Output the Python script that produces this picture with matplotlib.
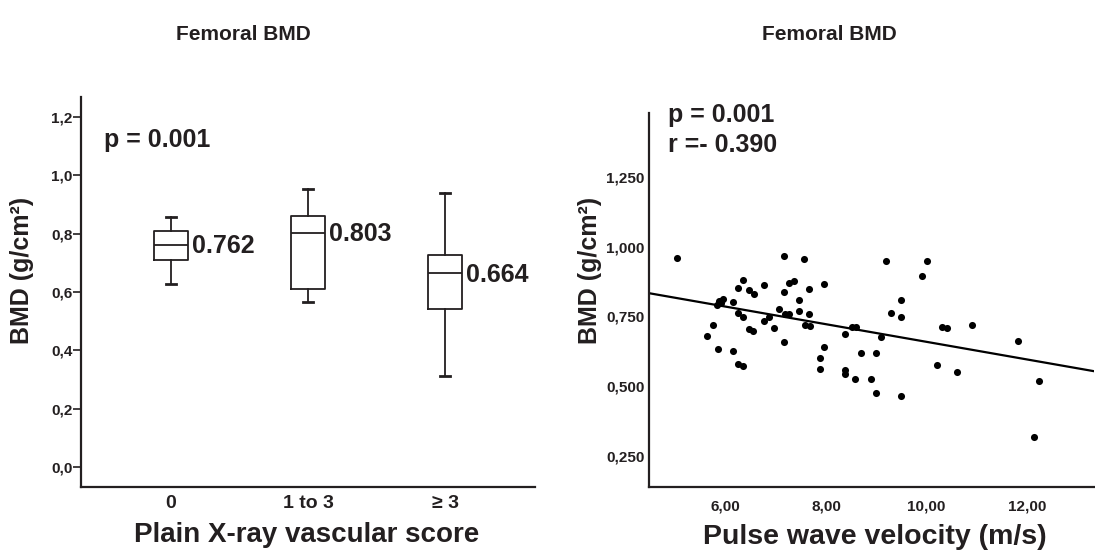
import numpy as np
import matplotlib
matplotlib.use("Agg")
import matplotlib.pyplot as plt

plt.rcParams['font.family'] = ['Liberation Sans', 'DejaVu Sans']
plt.rcParams['font.weight'] = 'bold'
plt.rcParams['axes.labelweight'] = 'bold'
ink = '#231f20'

# left panel: box plot by vascular score
groups = ['0', '1 to 3', '\u2265 3']
med = [0.762, 0.803, 0.664]
q1 = [0.710, 0.610, 0.542]
q3 = [0.809, 0.861, 0.727]
whis_lo = [0.627, 0.566, 0.312]
whis_hi = [0.857, 0.953, 0.940]
left_yticks = [0.0, 0.2, 0.4, 0.6, 0.8, 1.0, 1.2]

# right panel: pulse wave velocity vs BMD
pwv = [5.04, 7.17, 7.57, 6.35, 6.26, 6.46, 6.57, 6.76, 7.27, 7.37,
       7.97, 7.17, 7.67, 7.46, 5.87, 5.96, 5.84, 5.92, 6.15, 6.26,
       6.35, 7.06, 7.18, 7.27, 7.46, 7.67, 6.86, 6.76, 6.96, 7.58,
       7.68, 6.46, 6.55, 5.75, 5.64, 7.17, 5.86, 6.15, 6.25, 6.35,
       7.97, 7.88, 7.88, 8.38, 8.38, 8.38, 9.20, 10.00, 9.90, 9.50,
       9.29, 9.50, 8.52, 8.60, 9.09, 10.31, 10.40, 8.69, 8.99, 10.20,
       8.58, 8.89, 10.61, 8.99, 9.50, 10.91, 11.82, 12.23, 12.13]
bmd = [0.961, 0.967, 0.955, 0.880, 0.851, 0.845, 0.830, 0.863, 0.869, 0.876,
       0.865, 0.837, 0.849, 0.808, 0.806, 0.812, 0.791, 0.797, 0.803, 0.763,
       0.749, 0.776, 0.759, 0.759, 0.770, 0.757, 0.748, 0.733, 0.708, 0.718,
       0.715, 0.704, 0.699, 0.720, 0.680, 0.658, 0.632, 0.627, 0.579, 0.573,
       0.642, 0.600, 0.562, 0.687, 0.558, 0.543, 0.950, 0.950, 0.894, 0.808,
       0.763, 0.747, 0.711, 0.713, 0.677, 0.711, 0.708, 0.619, 0.619, 0.577,
       0.526, 0.526, 0.550, 0.475, 0.466, 0.719, 0.662, 0.520, 0.319]
fit_intercept = 0.975
fit_slope = -0.0316
right_xticks = [6, 8, 10, 12]
right_yticks = [0.25, 0.5, 0.75, 1.0, 1.25]

fig = plt.figure(figsize=(10.95, 5.52), dpi=100)
ax1 = fig.add_axes([0.074, 0.1178, 0.4146, 0.7065])
ax2 = fig.add_axes([0.5927, 0.1178, 0.4065, 0.6775])

# --- left ---
stats = []
for i in range(len(groups)):
    stats.append(dict(med=med[i], q1=q1[i], q3=q3[i], whislo=whis_lo[i],
                      whishi=whis_hi[i], fliers=[]))
pos = np.arange(len(groups))
lw = 1.3
ax1.bxp(stats, positions=pos, widths=0.255, capwidths=0.075, showfliers=False,
        boxprops=dict(color=ink, lw=lw), medianprops=dict(color=ink, lw=lw),
        whiskerprops=dict(color=ink, lw=lw), capprops=dict(color=ink, lw=2.0))
for i, m in enumerate(med):
    ax1.text(pos[i] + 0.155, m - 0.005, f"{m:.3f}", fontsize=18, color=ink,
             ha='left', va='center')
ax1.set_xlim(-0.657, 2.657)
ax1.set_ylim(-0.069, 1.269)
ax1.set_xticks(pos)
ax1.set_xticklabels(groups, fontsize=14, color=ink)
ax1.tick_params(axis='x', length=0, pad=6)
ax1.set_yticks(left_yticks)
ax1.set_yticklabels([f"{v:.1f}".replace('.', ',') for v in left_yticks],
                    fontsize=11, color=ink)
ax1.tick_params(axis='y', length=6, width=1.2, color=ink, pad=0)
ax1.text(0.0507, 0.89, "p = 0.001", transform=ax1.transAxes, fontsize=18,
         color=ink, ha='left', va='center')
ax1.set_ylabel("BMD (g/cm\u00b2)", fontsize=18, color=ink, va='center')
ax1.yaxis.set_label_coords(-0.13, 0.554)
ax1.set_xlabel("Plain X-ray vascular score", fontsize=20, color=ink, va='center')
ax1.xaxis.set_label_coords(0.498, -0.123)

# --- right ---
ax2.scatter(pwv, bmd, s=26, color='black', zorder=3, linewidths=0)
xl = np.array([4.482, 13.33])
ax2.plot(xl, fit_intercept + fit_slope * xl, color='black', lw=1.6)
ax2.set_xlim(4.482, 13.33)
ax2.set_ylim(0.139, 1.479)
ax2.set_xticks(right_xticks)
ax2.set_xticklabels([f"{v:.2f}".replace('.', ',') for v in right_xticks],
                    fontsize=11, color=ink)
ax2.set_yticks(right_yticks)
ax2.set_yticklabels([f"{v:.3f}".replace('.', ',') for v in right_yticks],
                    fontsize=11, color=ink)
ax2.tick_params(axis='x', length=0, pad=9)
ax2.tick_params(axis='y', length=0, pad=3)
ax2.text(0.0426, 0.995, "p = 0.001", transform=ax2.transAxes, fontsize=18,
         color=ink, ha='left', va='center')
ax2.text(0.0426, 0.914, "r =- 0.390", transform=ax2.transAxes, fontsize=18,
         color=ink, ha='left', va='center')
ax2.set_ylabel("BMD (g/cm\u00b2)", fontsize=18, color=ink, va='center')
ax2.yaxis.set_label_coords(-0.132, 0.58)
ax2.set_xlabel("Pulse wave velocity (m/s)", fontsize=20.5, color=ink, va='center')
ax2.xaxis.set_label_coords(0.507, -0.134)

for ax in (ax1, ax2):
    ax.spines['top'].set_visible(False)
    ax.spines['right'].set_visible(False)
    ax.spines['left'].set_linewidth(1.6)
    ax.spines['bottom'].set_linewidth(1.6)
    ax.spines['left'].set_color(ink)
    ax.spines['bottom'].set_color(ink)

fig.text(243 / 1095, 1 - 35 / 552, "Femoral BMD", fontsize=15, color=ink,
         ha='center', va='center')
fig.text(829 / 1095, 1 - 35 / 552, "Femoral BMD", fontsize=15, color=ink,
         ha='center', va='center')

fig.savefig("out.png", dpi=100)
